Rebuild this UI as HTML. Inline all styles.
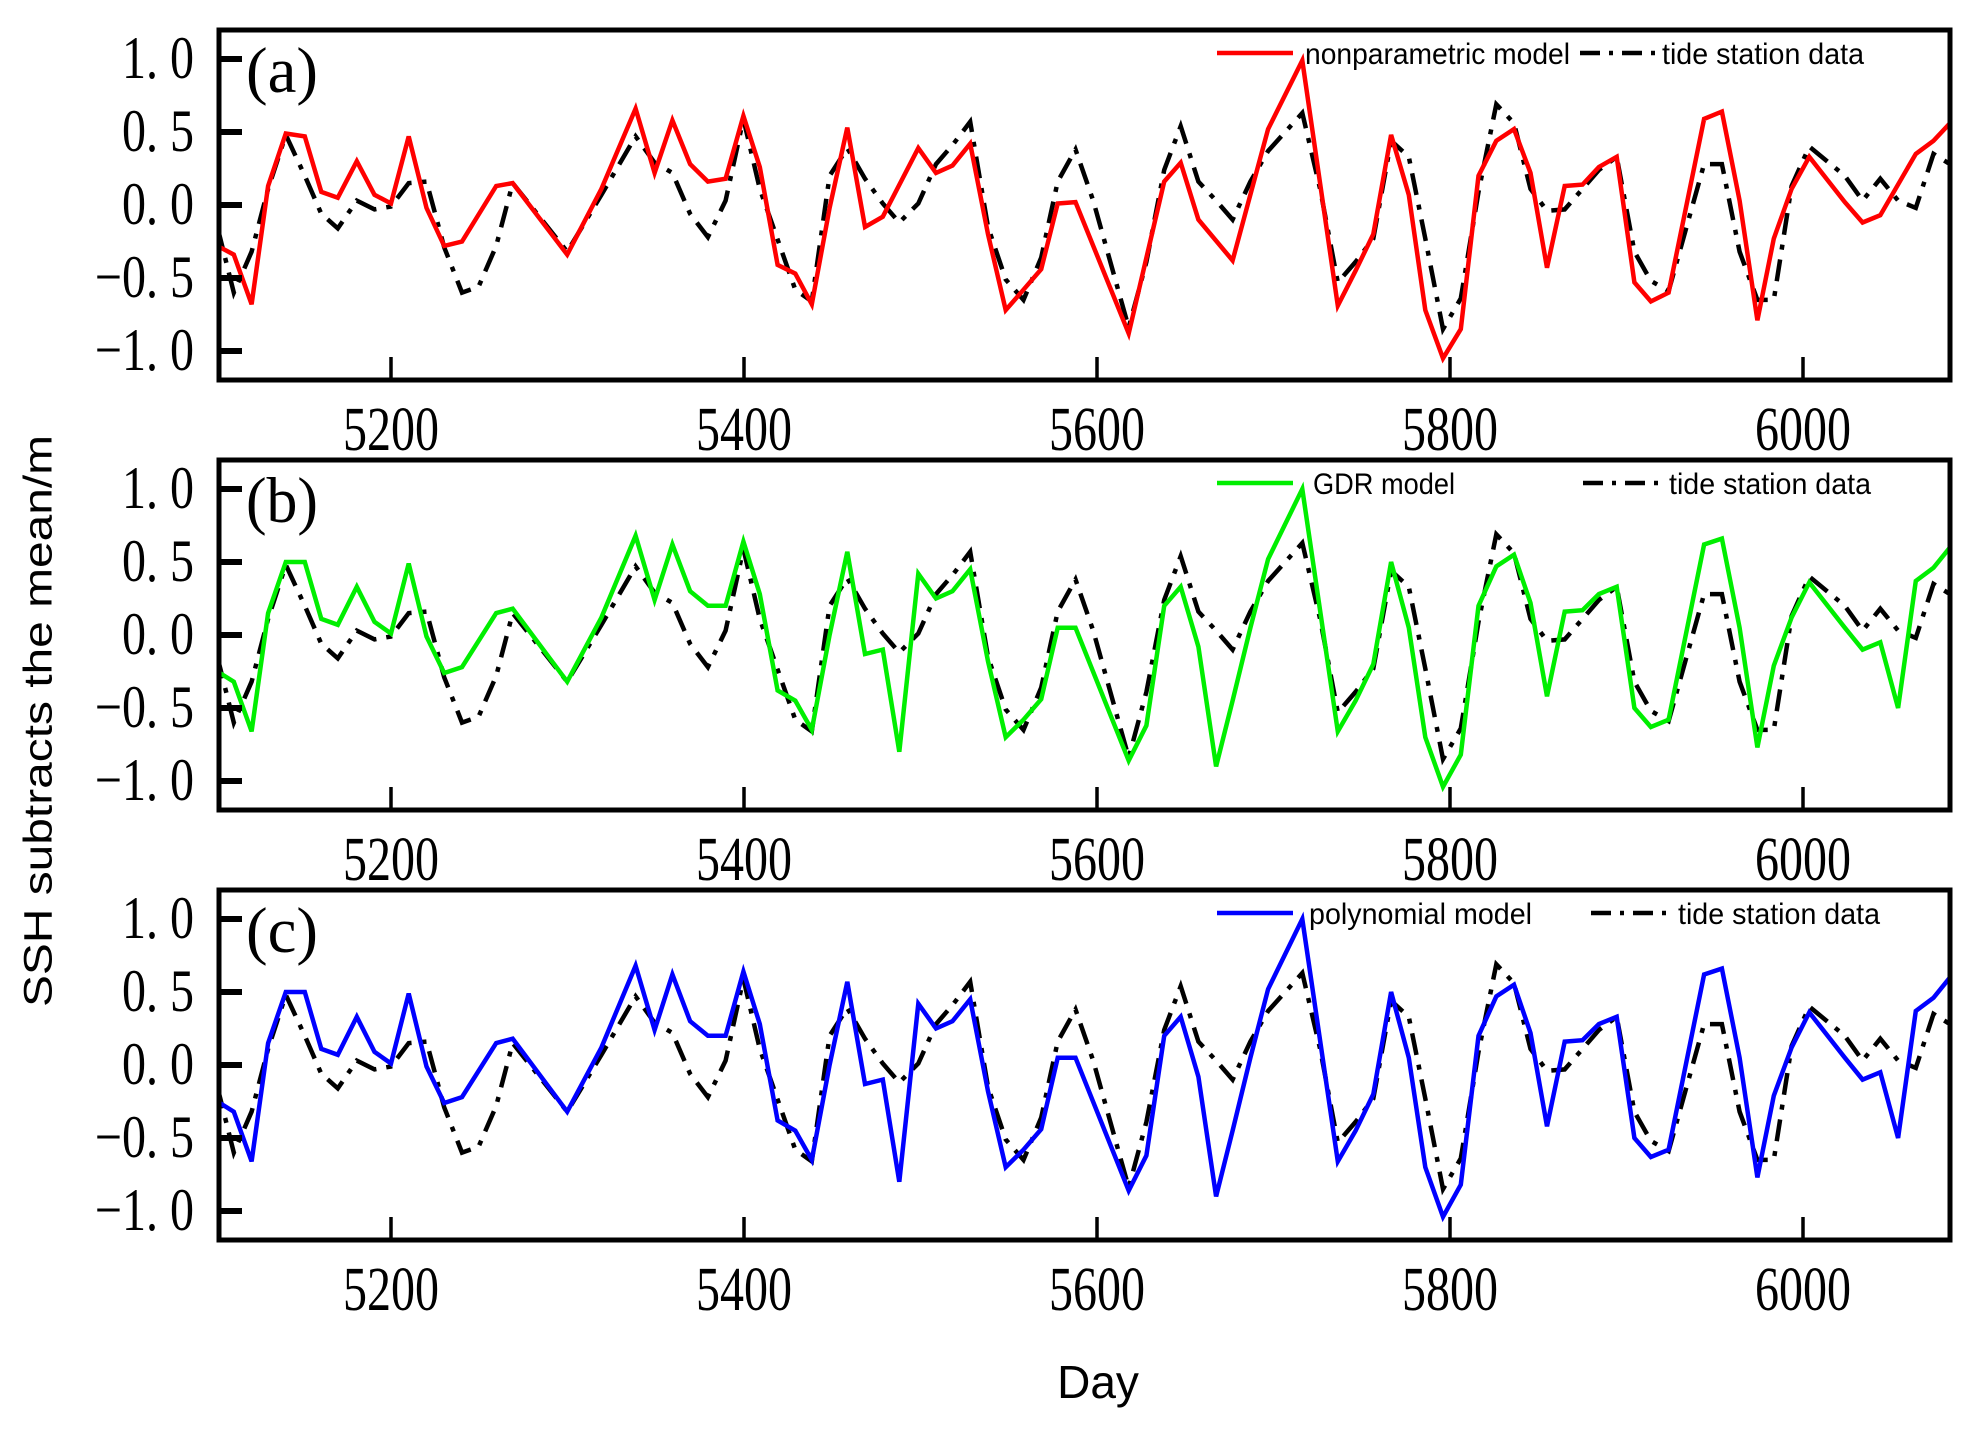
<!DOCTYPE html>
<html><head><meta charset="utf-8"><style>
html,body{margin:0;padding:0;background:#fff;}
svg{display:block;}
</style></head><body>
<svg id="s" width="1983" height="1440" viewBox="0 0 1983 1440" xmlns="http://www.w3.org/2000/svg">
<rect width="1983" height="1440" fill="#fff"/>
<g id="g"></g>
<text x="41" y="721" transform="rotate(-90 41 721)" text-anchor="middle" dominant-baseline="middle" font-family="Liberation Sans, sans-serif" font-size="40" textLength="572" lengthAdjust="spacingAndGlyphs">SSH subtracts the mean/m</text>
<text x="1098" y="1398" text-anchor="middle" font-family="Liberation Sans, sans-serif" font-size="46">Day</text>
</svg>
<script>
var NS="http://www.w3.org/2000/svg",G=document.getElementById("g");
function el(t,a,txt){var e=document.createElementNS(NS,t);for(var k in a)e.setAttribute(k,a[k]);if(txt!==undefined)e.textContent=txt;G.appendChild(e);return e;}
var red=[[173,-0.28],[186,-0.34],[200,-0.68],[213,0.13],[227,0.49],[242,0.47],[255,0.09],[268,0.05],[283,0.3],[297,0.07],[310,0.01],[324,0.47],[338,-0.02],[352,-0.28],[366,-0.25],[393,0.13],[406,0.15],[449,-0.34],[476,0.11],[503,0.66],[518,0.22],[532,0.58],[546,0.28],[560,0.16],[574,0.18],[588,0.61],[601,0.26],[615,-0.41],[629,-0.47],[642,-0.68],[656,-0.02],[670,0.53],[684,-0.15],[698,-0.08],[726,0.39],[740,0.22],[753,0.27],[767,0.42],[781,-0.2],[795,-0.72],[809,-0.58],[823,-0.44],[836,0.01],[850,0.02],[892,-0.88],[920,0.16],[933,0.29],[947,-0.1],[974,-0.38],[1002,0.52],[1029,0.99],[1057,-0.69],[1071,-0.45],[1085,-0.2],[1099,0.48],[1113,0.07],[1126,-0.72],[1140,-1.05],[1154,-0.85],[1168,0.2],[1182,0.44],[1196,0.52],[1209,0.22],[1222,-0.43],[1236,0.13],[1250,0.14],[1263,0.26],[1277,0.33],[1291,-0.53],[1304,-0.66],[1318,-0.6],[1346,0.59],[1360,0.64],[1374,0.03],[1388,-0.79],[1401,-0.23],[1415,0.11],[1429,0.33],[1457,0.02],[1471,-0.12],[1485,-0.07],[1513,0.35],[1527,0.44],[1540,0.56]];
var grn=[[173,-0.25],[186,-0.32],[200,-0.66],[213,0.15],[227,0.5],[242,0.5],[255,0.11],[268,0.07],[283,0.33],[297,0.09],[310,0.01],[324,0.49],[338,-0.01],[352,-0.26],[366,-0.22],[393,0.15],[406,0.18],[449,-0.32],[476,0.12],[503,0.68],[518,0.24],[532,0.62],[546,0.3],[560,0.2],[574,0.2],[588,0.64],[601,0.28],[615,-0.38],[629,-0.45],[642,-0.65],[656,0.0],[670,0.57],[684,-0.13],[698,-0.1],[711,-0.8],[726,0.42],[740,0.25],[753,0.3],[767,0.45],[781,-0.18],[795,-0.7],[809,-0.58],[823,-0.44],[836,0.05],[850,0.05],[892,-0.86],[906,-0.62],[920,0.2],[933,0.33],[947,-0.08],[961,-0.9],[974,-0.45],[988,0.05],[1002,0.52],[1029,1.0],[1057,-0.66],[1071,-0.45],[1085,-0.2],[1099,0.5],[1113,0.05],[1126,-0.7],[1140,-1.04],[1154,-0.82],[1168,0.2],[1182,0.47],[1196,0.55],[1209,0.22],[1222,-0.42],[1236,0.16],[1250,0.17],[1263,0.28],[1277,0.33],[1291,-0.5],[1304,-0.63],[1318,-0.58],[1346,0.62],[1360,0.66],[1374,0.05],[1388,-0.77],[1401,-0.21],[1415,0.12],[1429,0.36],[1457,0.05],[1471,-0.1],[1485,-0.05],[1499,-0.5],[1513,0.37],[1527,0.46],[1540,0.6]];
var blk=[[173,-0.15],[186,-0.6],[200,-0.32],[213,0.11],[227,0.48],[242,0.2],[255,-0.06],[268,-0.16],[283,0.03],[297,-0.03],[310,-0.01],[324,0.15],[338,0.16],[352,-0.29],[366,-0.6],[379,-0.56],[393,-0.28],[406,0.15],[449,-0.32],[476,0.07],[503,0.47],[518,0.29],[532,0.22],[546,-0.06],[560,-0.22],[574,0.03],[588,0.59],[601,0.11],[629,-0.58],[642,-0.66],[656,0.2],[670,0.39],[684,0.18],[698,0.01],[711,-0.12],[726,0.01],[740,0.28],[753,0.41],[767,0.57],[781,-0.15],[795,-0.51],[809,-0.65],[823,-0.36],[836,0.16],[850,0.38],[864,0.03],[892,-0.84],[906,-0.39],[920,0.24],[933,0.54],[947,0.16],[961,0.03],[974,-0.1],[988,0.16],[1002,0.37],[1029,0.63],[1043,0.11],[1057,-0.53],[1071,-0.39],[1085,-0.23],[1099,0.44],[1113,0.33],[1126,-0.23],[1140,-0.85],[1154,-0.64],[1168,0.09],[1182,0.69],[1196,0.56],[1209,0.11],[1222,-0.04],[1236,-0.03],[1250,0.11],[1263,0.24],[1277,0.33],[1291,-0.32],[1304,-0.52],[1318,-0.59],[1346,0.28],[1360,0.28],[1374,-0.32],[1388,-0.65],[1401,-0.65],[1415,0.13],[1429,0.4],[1457,0.2],[1471,0.03],[1485,0.18],[1499,0.03],[1513,-0.02],[1527,0.35],[1540,0.28]];
function X(dx){return 391+(dx-310)*1.2675;}
function pts(d,o){return d.map(function(p){return X(p[0]).toFixed(1)+","+(o+205-p[1]*146).toFixed(1);}).join(" ");}
var L=219,R=1950,T=30,B=380;
var panels=[
 {o:0,c:"#ff0000",d:red,lab:"(a)",lt:"nonparametric model",tx:1305,tw:265,dx1:1580,dx2:1656,t2:1662},
 {o:430,c:"#00ee00",d:grn,lab:"(b)",lt:"GDR model",tx:1313,tw:142,dx1:1583,dx2:1659,t2:1669},
 {o:860,c:"#0000ff",d:grn,lab:"(c)",lt:"polynomial model",tx:1309,tw:223,dx1:1591,dx2:1667,t2:1678}];
var ser="Liberation Serif, serif";
function stext(x,y,anchor,size,sy,txt,tl){var a={x:x,y:y/sy,"text-anchor":anchor,"font-family":ser,"font-size":size,transform:"scale(1,"+sy+")"};if(tl){a.textLength=tl;a.lengthAdjust="spacingAndGlyphs";}return el("text",a,txt);}
panels.forEach(function(P){
 var o=P.o;
 el("defs",{}).innerHTML='<clipPath id="c'+o+'"><rect x="'+L+'" y="'+(T+o)+'" width="'+(R-L)+'" height="'+(B-T)+'"/></clipPath>';
 var g=el("g",{"clip-path":"url(#c"+o+")"});
 var p1=document.createElementNS(NS,"polyline");p1.setAttribute("points",pts(blk,o));p1.setAttribute("fill","none");p1.setAttribute("stroke","#000");p1.setAttribute("stroke-width","4.5");p1.setAttribute("stroke-dasharray","22 10 5 10");g.appendChild(p1);
 var p2=document.createElementNS(NS,"polyline");p2.setAttribute("points",pts(P.d,o));p2.setAttribute("fill","none");p2.setAttribute("stroke",P.c);p2.setAttribute("stroke-width","4.5");p2.setAttribute("stroke-linejoin","miter");g.appendChild(p2);
 el("rect",{x:L,y:T+o,width:R-L,height:B-T,fill:"none",stroke:"#000","stroke-width":5});
 [1,0.5,0,-0.5,-1].forEach(function(v){var y=o+205-v*146;
  el("line",{x1:L,x2:L+23,y1:y,y2:y,stroke:"#000","stroke-width":6});
  var s=(v<0?"\u2212":"")+Math.abs(v).toFixed(1).replace(".",". ");
  stext(194,y+19,"end",48,1.25,s);});
 [5200,5400,5600,5800,6000].forEach(function(d){var x=391+(d-5200)*1.765;
  el("line",{x1:x,x2:x,y1:B+o-23,y2:B+o,stroke:"#000","stroke-width":3.5});
  stext(x,B+o+70,"middle",48,1.3,""+d,96);});
 stext(246,92+o,"start",56,1.15,P.lab,72);
 el("line",{x1:1217,x2:1293,y1:53+o,y2:53+o,stroke:P.c,"stroke-width":4.5});
 el("text",{x:P.tx,y:64+o,"font-family":"Liberation Sans, sans-serif","font-size":30,textLength:P.tw,lengthAdjust:"spacingAndGlyphs"},P.lt);
 el("line",{x1:P.dx1,x2:P.dx2,y1:53+o,y2:53+o,stroke:"#000","stroke-width":4.5,"stroke-dasharray":"20 9 4 9"});
 el("text",{x:P.t2,y:64+o,"font-family":"Liberation Sans, sans-serif","font-size":30,textLength:202,lengthAdjust:"spacingAndGlyphs"},"tide station data");
});
</script>
</body></html>
